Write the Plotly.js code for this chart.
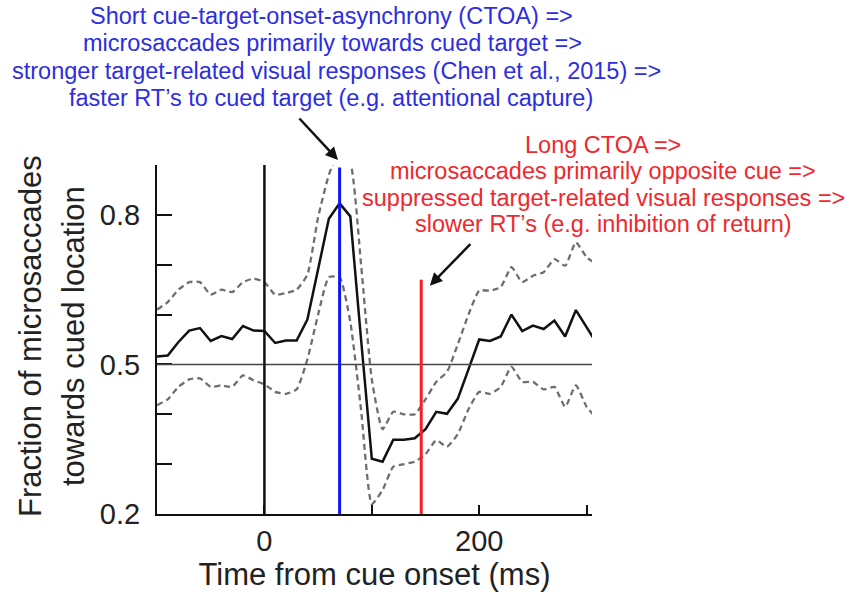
<!DOCTYPE html>
<html>
<head>
<meta charset="utf-8">
<script src="https://cdn.plot.ly/plotly-3.0.1.min.js"></script>
<style>
  html, body { margin: 0; padding: 0; background: #fff; }
  #chart { width: 850px; height: 595px; }
</style>
</head>
<body>
<div id="chart"></div>
<script>
/* time from cue onset, 10 ms bins */
var timeMs = [-100, -90, -80, -70, -60, -50, -40, -30, -20, -10,
              0, 10, 20, 30, 40, 50, 60, 70, 80, 90,
              100, 110, 120, 130, 140, 150, 160, 170, 180, 190,
              200, 210, 220, 230, 240, 250, 260, 270, 280, 290,
              300, 310];
/* fraction of microsaccades towards the cued location */
var meanFrac = [0.516, 0.518, 0.545, 0.568, 0.573, 0.547, 0.557, 0.551, 0.577, 0.568,
                0.567, 0.543, 0.548, 0.548, 0.590, 0.690, 0.792, 0.823, 0.797, 0.550,
                0.311, 0.305, 0.349, 0.349, 0.352, 0.370, 0.405, 0.401, 0.431, 0.490,
                0.550, 0.547, 0.556, 0.600, 0.567, 0.578, 0.571, 0.588, 0.556, 0.609,
                0.574, 0.540];
var upperBound = [0.610, 0.625, 0.650, 0.665, 0.665, 0.640, 0.650, 0.645, 0.665, 0.672,
                  0.665, 0.640, 0.643, 0.650, 0.680, 0.795, 0.880, 0.930, 0.905, 0.700,
                  0.470, 0.370, 0.405, 0.400, 0.400, 0.430, 0.465, 0.485, 0.540, 0.600,
                  0.648, 0.648, 0.655, 0.695, 0.665, 0.678, 0.685, 0.711, 0.698, 0.745,
                  0.715, 0.700];
var lowerBound = [0.418, 0.430, 0.455, 0.470, 0.472, 0.455, 0.458, 0.455, 0.478, 0.468,
                  0.460, 0.445, 0.441, 0.450, 0.510, 0.600, 0.675, 0.675, 0.585, 0.409,
                  0.220, 0.248, 0.295, 0.300, 0.305, 0.320, 0.348, 0.335, 0.360, 0.410,
                  0.445, 0.441, 0.455, 0.495, 0.465, 0.465, 0.450, 0.455, 0.415, 0.458,
                  0.415, 0.390];

/* reference markers */
var cueOnset = 0;
var shortCtoa = 70;      // blue
var longCtoa = 146;      // red
var chanceLevel = 0.5;
var shortCtoaTop = 0.895;
var longCtoaTop = 0.67;

var xTickVals = [-100, 0, 100, 200, 300];
var xTickText = ['', '0', '', '200', ''];
var yTickVals = [0.2, 0.3, 0.4, 0.5, 0.6, 0.7, 0.8];
var yTickText = ['0.2', '', '', '0.5', '', '', '0.8'];

var blueLines = ['Short cue-target-onset-asynchrony (CTOA) =>',
                 'microsaccades primarily towards cued target =>',
                 'stronger target-related visual responses (Chen et al., 2015) =>',
                 'faster RT\u2019s to cued target (e.g. attentional capture)'];
var redLines = ['Long CTOA =>',
                'microsaccades primarily opposite cue =>',
                'suppressed target-related visual responses =>',
                'slower RT\u2019s (e.g. inhibition of return)'];

var FONT = 'Liberation Sans, Arial, sans-serif';
var BLUE_TXT = 'rgb(45, 45, 225)';
var RED_TXT = 'rgb(240, 40, 45)';

// plot box in pixels, used to place the free text in paper units
var PL = 157, PW = 435, PB = 514, PH = 349;
function px(xp) { return (xp - PL) / PW; }
function py(yp) { return (PB - yp) / PH; }

var dashed = {color: 'rgb(110, 110, 110)', width: 2.3, dash: '6px,4px', shape: 'spline', smoothing: 0.5};

var data = [
  {x: timeMs, y: upperBound, type: 'scatter', mode: 'lines', line: dashed, hoverinfo: 'skip'},
  {x: timeMs, y: lowerBound, type: 'scatter', mode: 'lines', line: dashed, hoverinfo: 'skip'},
  {x: timeMs, y: meanFrac, type: 'scatter', mode: 'lines',
   line: {color: '#111', width: 2.5}}
];

var annotations = [
  {xref: 'paper', yref: 'paper', x: px(30), y: py(336), xanchor: 'center', yanchor: 'middle',
   textangle: -90, showarrow: false,
   text: 'Fraction of microsaccades', font: {size: 31, color: '#222'}},
  {xref: 'paper', yref: 'paper', x: px(73), y: py(336), xanchor: 'center', yanchor: 'middle',
   textangle: -90, showarrow: false,
   text: 'towards cued location', font: {size: 31, color: '#222'}},
  // arrow to the short-CTOA line (head sits above the plot box, so paper units)
  {xref: 'paper', yref: 'paper', x: px(338), y: py(160), text: '', showarrow: true,
   ax: -40, ay: -43, arrowhead: 2, arrowsize: 1, arrowwidth: 2.5, arrowcolor: '#111'},
  {xref: 'x', yref: 'y', x: 154, y: 0.658, text: '', showarrow: true,
   ax: 42, ay: -43, arrowhead: 2, arrowsize: 1, arrowwidth: 2.5, arrowcolor: '#111'}
];

var blueX = [331, 332, 336, 331];
var blueY = [16, 43, 71, 98];
blueLines.forEach(function (t, i) {
  annotations.push({xref: 'paper', yref: 'paper', x: px(blueX[i]), y: py(blueY[i]),
    xanchor: 'center', yanchor: 'middle', showarrow: false, text: t,
    font: {size: 23.5, color: BLUE_TXT}});
});
var redY = [145, 171, 198, 224];
redLines.forEach(function (t, i) {
  annotations.push({xref: 'paper', yref: 'paper', x: px(603), y: py(redY[i]),
    xanchor: 'center', yanchor: 'middle', showarrow: false, text: t,
    font: {size: 23.5, color: RED_TXT}});
});

var layout = {
  width: 850,
  height: 595,
  showlegend: false,
  paper_bgcolor: '#fff',
  plot_bgcolor: '#fff',
  font: {family: FONT, color: '#222'},
  margin: {l: PL, r: 850 - PL - PW, t: PB - PH, b: 595 - PB, pad: 0},
  xaxis: {
    range: [-100, 305],
    showgrid: false, zeroline: false,
    showline: true, linecolor: '#111', linewidth: 2,
    ticks: 'inside', ticklen: 9, tickwidth: 2, tickcolor: '#111',
    tickvals: xTickVals, ticktext: xTickText,
    tickfont: {size: 29, color: '#222'},
    ticklabelstandoff: 0,
    title: {text: 'Time from cue onset (ms)', font: {size: 31, color: '#222'}, standoff: 6}
  },
  yaxis: {
    range: [0.2, 0.9],
    showgrid: false, zeroline: false,
    showline: true, linecolor: '#111', linewidth: 2,
    ticks: 'inside', ticklen: 15, tickwidth: 2, tickcolor: '#111',
    tickvals: yTickVals, ticktext: yTickText,
    tickfont: {size: 29, color: '#222'},
    ticklabelstandoff: 9
  },
  shapes: [
    {type: 'line', xref: 'x', yref: 'y', x0: -100, x1: 305, y0: chanceLevel, y1: chanceLevel,
     line: {color: '#444', width: 1.5}},
    {type: 'line', xref: 'x', yref: 'y', x0: cueOnset, x1: cueOnset, y0: 0.2, y1: 0.9,
     line: {color: '#111', width: 2.5}},
    {type: 'line', xref: 'x', yref: 'y', x0: shortCtoa, x1: shortCtoa, y0: 0.2, y1: shortCtoaTop,
     line: {color: 'rgb(20, 20, 240)', width: 3}},
    {type: 'line', xref: 'x', yref: 'y', x0: longCtoa, x1: longCtoa, y0: 0.2, y1: longCtoaTop,
     line: {color: 'rgb(245, 30, 35)', width: 3}}
  ],
  annotations: annotations
};

Plotly.newPlot('chart', data, layout, {staticPlot: true});
</script>
</body>
</html>
